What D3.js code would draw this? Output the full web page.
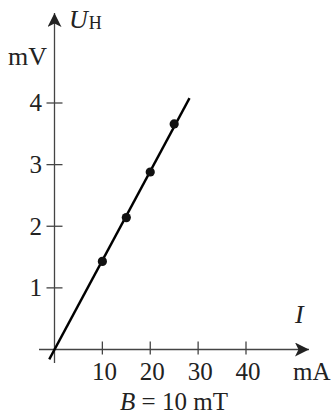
<!DOCTYPE html>
<html>
<head>
<meta charset="utf-8">
<script src="https://cdn.jsdelivr.net/npm/d3@7"></script>
<style>
  body { margin: 0; background: #fff; }
  text { font-family: "Liberation Serif", "DejaVu Serif", serif; fill: #222; }
</style>
</head>
<body>
<div id="chart"></div>
<script>
// measured points (I in mA, U_H in mV)
var currents = [10, 15, 20, 25];
var voltages = [1.43, 2.14, 2.88, 3.66];
// fitted line end points
var fitX = [-1.1, 28.2];
var fitY = [-0.16, 4.08];
var xTicks = [10, 20, 30, 40];
var yTicks = [1, 2, 3, 4];

var width = 334, height = 416;

var x = d3.scaleLinear().domain([0, 40]).range([54.5, 246]);
var y = d3.scaleLinear().domain([0, 4]).range([349.5, 103]);

var svg = d3.select("#chart").append("svg")
    .attr("width", width)
    .attr("height", height);

var axisColor = "#444";
var fs = "25px";

// arrow head
svg.append("defs").append("marker")
    .attr("id", "arrow")
    .attr("viewBox", "0 0 10 10")
    .attr("refX", 10).attr("refY", 5)
    .attr("markerWidth", 14).attr("markerHeight", 14)
    .attr("markerUnits", "userSpaceOnUse")
    .attr("orient", "auto")
  .append("path")
    .attr("d", "M0,0 L10,5 L0,10 L2.5,5 Z")
    .attr("fill", "#222");

// y axis
svg.append("line")
    .attr("x1", x(0)).attr("x2", x(0))
    .attr("y1", 363).attr("y2", 13)
    .attr("stroke", axisColor).attr("stroke-width", 1.3)
    .attr("marker-end", "url(#arrow)");

// x axis
svg.append("line")
    .attr("x1", 39).attr("x2", 309)
    .attr("y1", y(0)).attr("y2", y(0))
    .attr("stroke", axisColor).attr("stroke-width", 1.3)
    .attr("marker-end", "url(#arrow)");

// y ticks
svg.selectAll(".ytick")
    .data(yTicks)
    .enter().append("line")
    .attr("x1", x(0) - 8).attr("x2", x(0) + 8)
    .attr("y1", function(d) { return y(d); })
    .attr("y2", function(d) { return y(d); })
    .attr("stroke", axisColor).attr("stroke-width", 1.3);

svg.selectAll(".ylab")
    .data(yTicks)
    .enter().append("text")
    .attr("x", 42)
    .attr("y", function(d) { return y(d); })
    .attr("dy", "0.33em")
    .attr("text-anchor", "end")
    .style("font-size", fs)
    .text(function(d) { return d; });

// x ticks
svg.selectAll(".xtick")
    .data(xTicks)
    .enter().append("line")
    .attr("x1", function(d) { return x(d); })
    .attr("x2", function(d) { return x(d); })
    .attr("y1", y(0) - 8).attr("y2", y(0) + 5)
    .attr("stroke", axisColor).attr("stroke-width", 1.3);

svg.selectAll(".xlab")
    .data(xTicks)
    .enter().append("text")
    .attr("x", function(d) { return x(d) + 2; })
    .attr("y", 380)
    .attr("text-anchor", "middle")
    .style("font-size", fs)
    .text(function(d) { return d; });

// fitted line
var line = d3.line()
    .x(function(d) { return x(d[0]); })
    .y(function(d) { return y(d[1]); });

svg.append("path")
    .datum(d3.zip(fitX, fitY))
    .attr("d", line)
    .attr("fill", "none")
    .attr("stroke", "#000")
    .attr("stroke-width", 2.4);

// points
svg.selectAll(".dot")
    .data(d3.zip(currents, voltages))
    .enter().append("circle")
    .attr("cx", function(d) { return x(d[0]); })
    .attr("cy", function(d) { return y(d[1]); })
    .attr("r", 4.6)
    .attr("fill", "#111");

// axis labels
var uh = svg.append("text")
    .attr("x", 69).attr("y", 28)
    .style("font-size", "26px");
uh.append("tspan").style("font-style", "italic").text("U");
uh.append("tspan").style("font-size", "18px").attr("dx", 1).attr("dy", 1).text("H");

svg.append("text")
    .attr("x", 8).attr("y", 65)
    .style("font-size", "26px")
    .text("mV");

svg.append("text")
    .attr("x", 295).attr("y", 323)
    .style("font-size", "26px")
    .style("font-style", "italic")
    .text("I");

svg.append("text")
    .attr("x", 293).attr("y", 380)
    .style("font-size", fs)
    .text("mA");

var cap = svg.append("text")
    .attr("x", 174).attr("y", 410)
    .attr("text-anchor", "middle")
    .style("font-size", fs);
cap.append("tspan").style("font-style", "italic").text("B");
cap.append("tspan").text(" = 10 mT");
</script>
</body>
</html>
